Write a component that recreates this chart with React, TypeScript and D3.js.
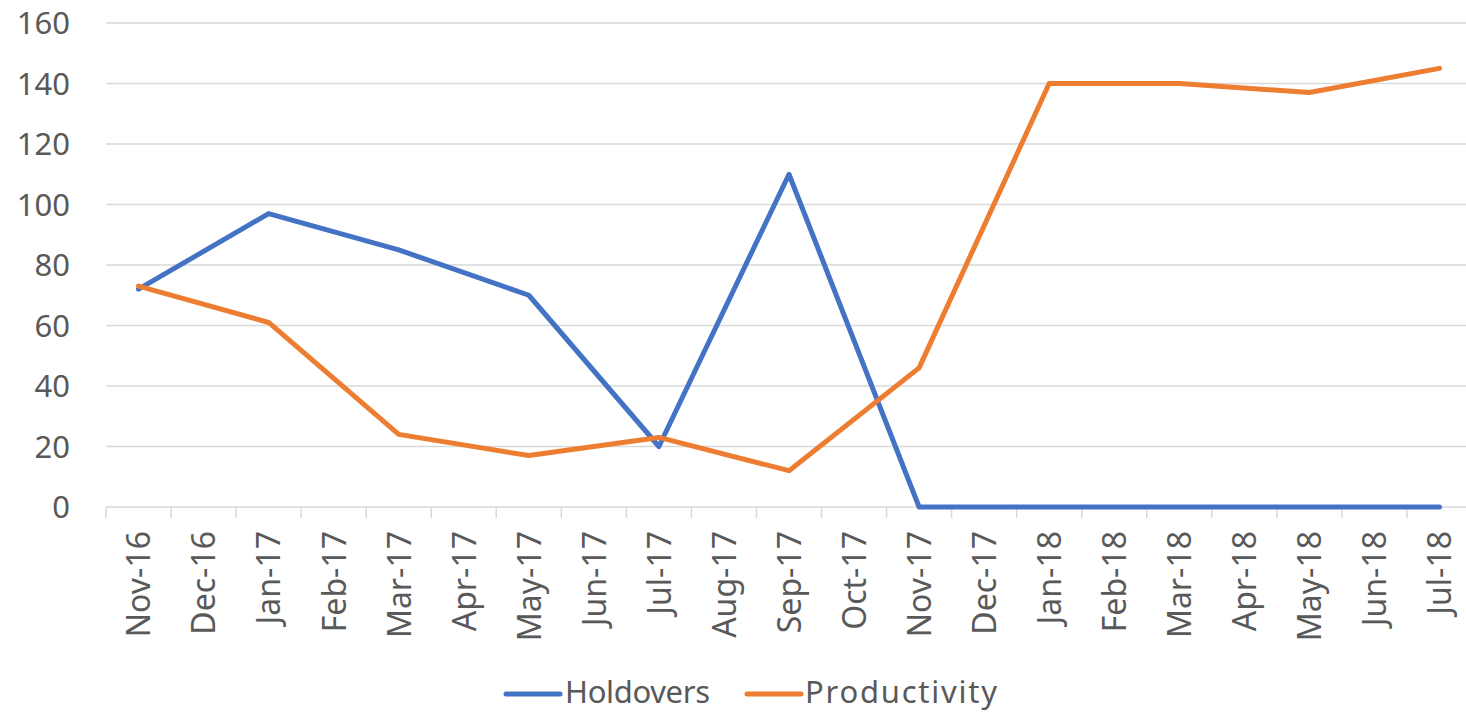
import React from "react";
import * as d3 from "d3";

const months = [
  "Nov-16", "Dec-16", "Jan-17", "Feb-17", "Mar-17", "Apr-17", "May-17", "Jun-17",
  "Jul-17", "Aug-17", "Sep-17", "Oct-17", "Nov-17", "Dec-17", "Jan-18", "Feb-18",
  "Mar-18", "Apr-18", "May-18", "Jun-18", "Jul-18",
];
const pointMonths = [
  "Nov-16", "Jan-17", "Mar-17", "May-17", "Jul-17", "Sep-17", "Nov-17",
  "Jan-18", "Mar-18", "May-18", "Jul-18",
];
const holdovers = [72, 97, 85, 70, 20, 110, 0, 0, 0, 0, 0];
const productivity = [73, 61, 24, 17, 23, 12, 46, 140, 140, 137, 145];
const yTicks = [0, 20, 40, 60, 80, 100, 120, 140, 160];

const series = [
  { name: "Holdovers", values: holdovers, color: "#4472C4" },
  { name: "Productivity", values: productivity, color: "#ED7D31" },
];

const W = 1466;
const H = 712;
const left = 106;
const right = 1472;
const top = 23;
const bottom = 507;
const FONT = "'Noto Sans', 'Open Sans', sans-serif";
const TEXT = "#595959";

export default function App() {
  const x = d3.scaleBand<string>().domain(months).range([left, right]).padding(0);
  const y = d3.scaleLinear().domain([0, 160]).range([bottom, top]);
  const cx = (m: string) => (x(m) as number) + x.bandwidth() / 2;

  const line = d3
    .line<[string, number]>()
    .x((d) => cx(d[0]))
    .y((d) => y(d[1]));

  const legendPos = [
    { lx: 506, tx: 565, tw: 145 },
    { lx: 747, tx: 805, tw: 192 },
  ];

  return (
    <svg
      width={W}
      height={H}
      style={{ position: "absolute", left: 0, top: 0, background: "#fff" }}
      fontFamily={FONT}
    >
      {yTicks.map((t) => (
        <g key={t}>
          <line x1={left} x2={right} y1={y(t)} y2={y(t)} stroke="#D9D9D9" strokeWidth={1.5} />
          <text x={70} y={y(t)} dy="0.36em" textAnchor="end" fontSize={31} fill={TEXT}>
            {t}
          </text>
        </g>
      ))}
      {months.map((m) => (
        <line
          key={"tk" + m}
          x1={x(m) as number}
          x2={x(m) as number}
          y1={bottom}
          y2={bottom + 11}
          stroke="#D9D9D9"
          strokeWidth={1.5}
        />
      ))}
      <line x1={right} x2={right} y1={bottom} y2={bottom + 11} stroke="#D9D9D9" strokeWidth={1.5} />
      {months.map((m) => (
        <text
          key={"lb" + m}
          transform={`translate(${cx(m)},${531}) rotate(-90)`}
          dy="0.37em"
          textAnchor="end"
          fontSize={32}
          fill={TEXT}
        >
          {m}
        </text>
      ))}
      {series.map((s) => (
        <path
          key={s.name}
          d={line(pointMonths.map((m, i) => [m, s.values[i]] as [string, number])) || ""}
          fill="none"
          stroke={s.color}
          strokeWidth={5}
          strokeLinejoin="round"
          strokeLinecap="round"
        />
      ))}
      {series.map((s, i) => {
        const p = legendPos[i];
        return (
          <g key={"lg" + s.name}>
            <line x1={p.lx} x2={p.lx + 54} y1={694} y2={694} stroke={s.color} strokeWidth={5} strokeLinecap="round" />
            <text x={p.tx} y={703} fontSize={31} fill={TEXT} textLength={p.tw} lengthAdjust="spacing">
              {s.name}
            </text>
          </g>
        );
      })}
    </svg>
  );
}
